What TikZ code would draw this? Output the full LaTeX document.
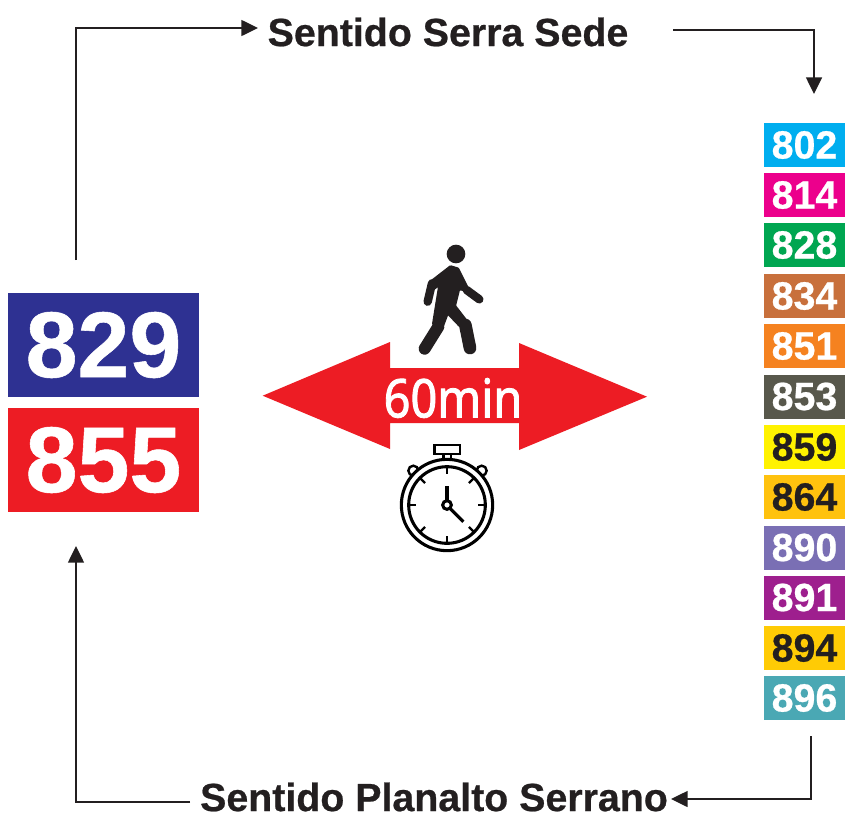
\documentclass[tikz,border=0pt]{standalone}
\usepackage{fontspec}
\setmainfont[BoldFeatures={FakeBold=0.6}]{Liberation Sans}
\newfontfamily\minfont[FakeStretch=0.88,FakeBold=1.6]{Noto Sans}
\usetikzlibrary{arrows.meta}
\definecolor{ink}{HTML}{231F20}
\definecolor{cA}{HTML}{00AEEF}\definecolor{cB}{HTML}{EC008C}\definecolor{cC}{HTML}{00A651}
\definecolor{cD}{HTML}{C8703C}\definecolor{cE}{HTML}{F58220}\definecolor{cF}{HTML}{58584C}
\definecolor{cG}{HTML}{FFF200}\definecolor{cH}{HTML}{FFC20E}\definecolor{cI}{HTML}{7A6FB4}
\definecolor{cJ}{HTML}{9E1F8E}\definecolor{cK}{HTML}{FFCB05}\definecolor{cL}{HTML}{4AA8B4}
\definecolor{cN}{HTML}{2E3192}\definecolor{cR}{HTML}{ED1C24}
\tikzset{
  bigbox/.style={fill=#1,text=white,inner sep=0pt,minimum width=143.25pt,minimum height=78pt,font=\fontsize{70}{70}\selectfont\bfseries},
  tag/.style={fill=#1,text=white,inner sep=0pt,minimum width=60.75pt,minimum height=33pt,font=\fontsize{29.5}{30}\selectfont\bfseries},
  tagdark/.style={tag=#1,text=ink},
  heading/.style={text=ink,inner sep=0pt,font=\fontsize{29.5}{30}\selectfont\bfseries},
  link/.style={draw=ink,line width=1.1pt,-{Triangle[length=12.5pt,width=12pt]}},
  icon/.style={draw=black,line width=2.3pt,fill=none},
  iconthin/.style={icon,line width=1.8pt},
  walker/.style={draw=ink,line cap=round,line join=round}
}
\begin{document}
\begin{tikzpicture}[x=0.75pt,y=-0.75pt]
\useasboundingbox (0,0) rectangle (845,814);
\fill[white] (0,0) rectangle (845,814);
% titles
\node[heading] (north) at (448,32) {Sentido Serra Sede};
\node[heading] (south) at (434,797) {Sentido Planalto Serrano};
% main lines
\node[bigbox=cN] (b829) at (103.5,345) {829};
\node[bigbox=cR] (b855) at (103.5,460) {855};
% line tags
\node[tag=cA] (t802) at (804.5,145) {802};
\node[tag=cB] (t814) at (804.5,195) {814};
\node[tag=cC] (t828) at (804.5,245) {828};
\node[tag=cD] (t834) at (804.5,296) {834};
\node[tag=cE] (t851) at (804.5,346) {851};
\node[tag=cF] (t853) at (804.5,396.5) {853};
\node[tagdark=cG] (t859) at (804.5,447) {859};
\node[tagdark=cH] (t864) at (804.5,497) {864};
\node[tag=cI] (t890) at (804.5,547.5) {890};
\node[tag=cJ] (t891) at (804.5,597.5) {891};
\node[tagdark=cK] (t894) at (804.5,648) {894};
\node[tag=cL] (t896) at (804.5,698) {896};
% connector ends
\coordinate (a0) at (76,260); \coordinate (a1) at (258,28);
\coordinate (b0) at (673,30); \coordinate (b1) at (814,94);
\coordinate (c0) at (811,736); \coordinate (c1) at (671,799);
\coordinate (d0) at (190,802); \coordinate (d1) at (76,546);
\draw[link] (a0) |- (a1);
\draw[link] (b0) -| (b1);
\draw[link] (c0) |- (c1);
\draw[link] (d0) -| (d1);
% double arrow
\fill[cR] (262.7,395.7) -- (390,342) -- (390,368) -- (519,368) -- (519,343) -- (647,396.7)
  -- (519,450) -- (519,423) -- (390,423) -- (390,449) -- cycle;
\node[text=white,inner sep=0pt,font=\minfont\fontsize{40}{40}\selectfont] (time) at (453,398) {60min};
% walker (coordinates of a 3x grid)
\begin{scope}[shift={(250,230)},x=0.25pt,y=-0.25pt]
  \fill[ink] (618,72) circle (28);
  \filldraw[walker,fill=ink,line width=3pt] (602,112) -- (622,118) -- (652,178) -- (625,175)
    -- (612,228) -- (652,280) -- (630,285) -- (592,245) -- (575,290) -- (552,282) -- (572,158) -- (548,176) -- (540,160) -- cycle;
  \draw[walker,line width=6.3pt] (650,180) -- (688,208);
  \draw[walker,line width=6.3pt] (546,160) -- (533,215);
  \draw[walker,line width=9pt] (565,290) -- (524,356);
  \draw[walker,line width=9.5pt] (646,285) -- (660,354);
\end{scope}
% stopwatch (coordinates of a 3x grid)
\begin{scope}[shift={(250,230)},x=0.25pt,y=-0.25pt]
  \draw[iconthin] (490,722) circle (15);
  \draw[iconthin] (695,722) circle (15);
  \draw[icon,fill=white] (591,825) circle (137);
  \draw[icon] (591,825) circle (115);
  \foreach \a in {0,45,...,315}
    \draw[iconthin] (591,825) ++(\a:115) -- ++(\a+180:22);
  \draw[icon] (591,768) -- (591,812);
  \draw[icon] (600,835) -- (640,875);
  \draw[icon] (591,825) circle (13);
  \draw[iconthin] (553,645) rectangle (630,672);
  \draw[iconthin] (580,672) -- (580,688) (603,672) -- (603,688);
\end{scope}
\end{tikzpicture}
\end{document}
